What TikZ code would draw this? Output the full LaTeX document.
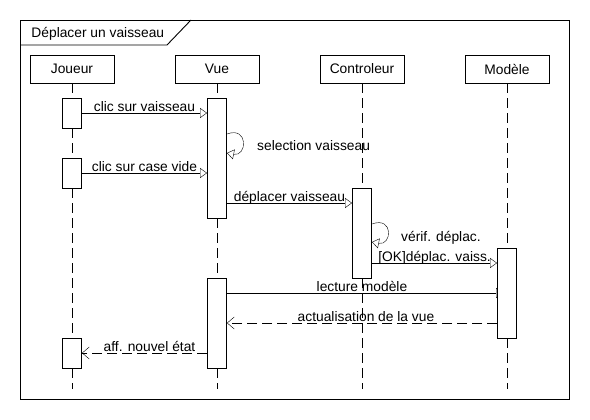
\documentclass[tikz,border=0pt]{standalone}
\usepackage{fontspec}
\setmainfont{Liberation Sans}
\usetikzlibrary{arrows.meta}
\pgfdeclarelayer{bg}
\pgfsetlayers{bg,main}
\begin{document}
\begin{tikzpicture}[x=1pt,y=-1pt, line width=0.9pt, font=\fontsize{13.8}{16}\selectfont,
 head/.style={draw, fill=white, minimum width=84pt, minimum height=28pt, inner sep=0pt},
 act/.style={draw, fill=white, minimum width=19pt, inner sep=0pt},
 life/.style={dash pattern=on 10pt off 5pt},
 sync/.style={-{Triangle[open,length=7pt,width=10pt]}},
 reply/.style={dash pattern=on 10pt off 5pt, -{Straight Barb[length=7pt,width=12pt]}},
 lbl/.style={anchor=base, inner sep=0pt, yshift=1.5pt}]
\useasboundingbox (0,0) rectangle (590,420);
% frame
\draw (20,20) rectangle (569,399);
\draw (20,45) -- (167,45) -- (191,20);
\node[anchor=base west, inner sep=0pt] (title) at (31,37.5) {Déplacer un vaisseau};
% heads
\node[head] (joueur) at (72,69) {Joueur};
\node[head] (vue) at (217,69) {Vue};
\node[head] (ctrl) at (362,69) {Controleur};
\node[head] (model) at (507,69) {Modèle};
\coordinate (jend) at (72,389);
\coordinate (vend) at (217,389);
\coordinate (cend) at (362,389);
\coordinate (mend) at (507,389);
% activations
\node[act, minimum height=30pt] (ja1) at (72,113) {};
\node[act, minimum height=30pt] (ja2) at (72,173) {};
\node[act, minimum height=30pt] (ja3) at (72,353) {};
\node[act, minimum height=120pt] (va1) at (217,158) {};
\node[act, minimum height=90pt] (va2) at (217,323) {};
\node[act, minimum height=90pt] (ca1) at (362,233) {};
\node[act, minimum height=90pt] (ma1) at (507,293) {};
% message levels
\coordinate (y1) at (0,113);
\coordinate (s1a) at (0,134);
\coordinate (s1b) at (0,153);
\coordinate (y2) at (0,173);
\coordinate (y3) at (0,203);
\coordinate (s2a) at (0,224);
\coordinate (s2b) at (0,242);
\coordinate (y4) at (0,263);
\coordinate (y5) at (0,293);
\coordinate (y6) at (0,323);
\coordinate (y7) at (0,353);
\begin{pgfonlayer}{bg}
\draw[life] (joueur.south) -- (jend);
\draw[life] (vue.south) -- (vend);
\draw[life] (ctrl.south) -- (cend);
\draw[life] (model.south) -- (mend);
\draw[sync] (va2.east |- y5) -- ([xshift=6pt]ma1.west |- y5);
\end{pgfonlayer}
% messages
\draw[sync] (ja1.east |- y1) -- node[lbl] {clic sur vaisseau} (va1.west |- y1);
\draw[sync] (va1.east |- s1a) .. controls +(22,-8) and +(20,4) .. (va1.east |- s1b);
\node[anchor=base west, inner sep=0pt] (l1) at (257,150) {selection vaisseau};
\draw[sync] (ja2.east |- y2) -- node[lbl] {clic sur case vide} (va1.west |- y2);
\draw[sync] (va1.east |- y3) -- node[lbl] {déplacer vaisseau} (ca1.west |- y3);
\draw[sync] (ca1.east |- s2a) .. controls +(22,-8) and +(20,4) .. (ca1.east |- s2b);
\node[anchor=base west, inner sep=0pt] (l2) at (401,241) {vérif. déplac.};
\draw[sync] (ca1.east |- y4) -- node[lbl] {[OK]déplac. vaiss.} (ma1.west |- y4);
\node[lbl] (l3) at (362,293) {lecture modèle};
\draw[reply] (ma1.west |- y6) -- node[lbl, xshift=4pt] {actualisation de la vue} (va2.east |- y6);
\draw[reply] (va2.west |- y7) -- node[lbl, xshift=5pt] {aff. nouvel état} (ja3.east |- y7);
\end{tikzpicture}
\end{document}
